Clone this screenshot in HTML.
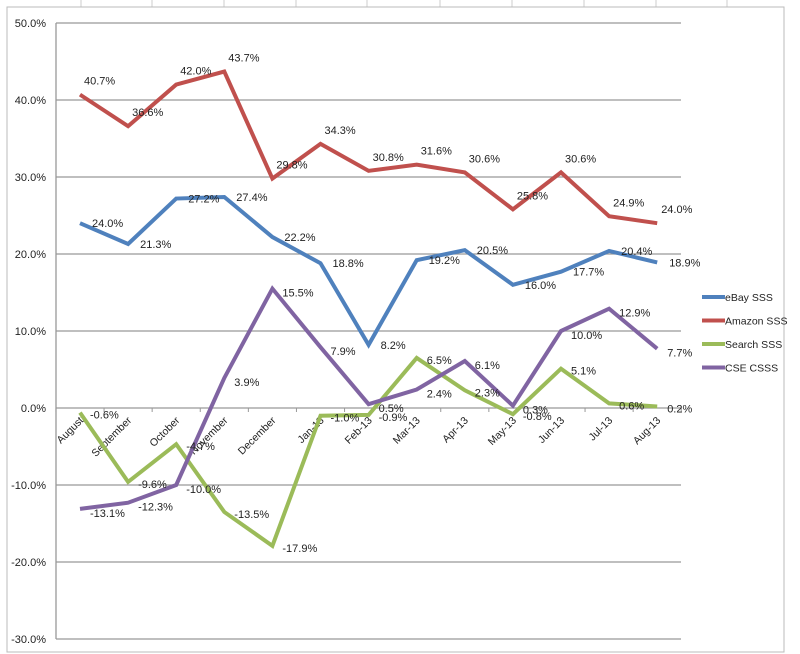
<!DOCTYPE html>
<html><head><meta charset="utf-8">
<style>
html,body{margin:0;padding:0;background:#fff;width:800px;height:654px;overflow:hidden;font-family:"Liberation Sans",sans-serif;}
svg text{font-family:"Liberation Sans",sans-serif;font-size:11px;fill:#222;}
#legend text{font-size:10.5px;}
#xaxis text{font-size:10.5px;}
</style></head>
<body>
<svg id="chart" width="800" height="654" xmlns="http://www.w3.org/2000/svg">
<g id="sheet"></g>
<rect x="7" y="7" width="777" height="645" fill="#fff" stroke="#bbb" stroke-width="1"/>
<g id="grid"></g>
<g id="yaxis"></g>
<g id="xaxis"></g>
<g id="series"></g>
<g id="labels"></g>
<g id="legend"></g>
</svg>
<script>
const categories=["August","September","October","November","December","Jan-13","Feb-13","Mar-13","Apr-13","May-13","Jun-13","Jul-13","Aug-13"];
const ebay=[24.0,21.3,27.2,27.4,22.2,18.8,8.2,19.2,20.5,16.0,17.7,20.4,18.9];
const amazon=[40.7,36.6,42.0,43.7,29.8,34.3,30.8,31.6,30.6,25.8,30.6,24.9,24.0];
const search=[-0.6,-9.6,-4.7,-13.5,-17.9,-1.0,-0.9,6.5,2.3,-0.8,5.1,0.6,0.2];
const cse=[-13.1,-12.3,-10.0,3.9,15.5,7.9,0.5,2.4,6.1,0.3,10.0,12.9,7.7];
const yTicks=[50,40,30,20,10,0,-10,-20,-30];
const seriesNames=["eBay SSS","Amazon SSS","Search SSS","CSE CSSS"];
const NS="http://www.w3.org/2000/svg";
const X0=80,XS=48.1,Y0=408,YS=7.7;
function xs(i){return X0+i*XS;}
function ys(v){return Y0-v*YS;}
function mk(tag,attrs,parent){const e=document.createElementNS(NS,tag);for(const k in attrs)e.setAttribute(k,attrs[k]);document.getElementById(parent).appendChild(e);return e;}
[81,152,224,296,367,440,512,584,656,727].forEach(x=>{const l=mk('line',{x1:x,x2:x,y1:0,y2:7,stroke:'#ccc'},'sheet');

});
yTicks.forEach(v=>{const l=mk('line',{x1:56,x2:681,y1:ys(v),y2:ys(v),stroke:'#999','stroke-width':1.3},'grid');


const t=mk('text',{x:46,y:ys(v)+4,'text-anchor':'end'},'yaxis');t.textContent=v.toFixed(1)+'%';

});
const ax=mk('line',{x1:56,x2:56,y1:ys(50),y2:ys(-30),stroke:'#999','stroke-width':1.3},'yaxis');


for(let i=0;i<=categories.length;i++){const x=X0-XS/2+i*XS;const tk=mk('line',{x1:x,x2:x,y1:Y0,y2:Y0+4,stroke:'#999'},'xaxis');

}
categories.forEach((c,i)=>{const x=xs(i)+4,y=Y0+13;const t=mk('text',{x:x,y:y,'text-anchor':'end',transform:`rotate(-45 ${x} ${y})`},'xaxis');t.textContent=c;

});
const all=[ebay,amazon,search,cse];
const colors=["#4f81bd","#c0504d","#9bbb59","#8064a2"];
const keys=["ebay","amazon","search","cse"];
const offs=[[12,4],[4,-10],[10,6],[10,8]];
all.forEach((arr,s)=>{const p=mk('polyline',{points:arr.map((v,i)=>xs(i)+','+ys(v)).join(' '),fill:'none',stroke:colors[s],'stroke-width':4,'stroke-linejoin':'miter'},'series');


arr.forEach((v,i)=>{const t=mk('text',{x:xs(i)+offs[s][0],y:ys(v)+offs[s][1]},'labels');t.textContent=v.toFixed(1)+'%';

});
const ly=297+s*23.5;
const ll=mk('line',{x1:702,x2:725,y1:ly,y2:ly,stroke:colors[s],'stroke-width':4},'legend');


const lt=mk('text',{x:725,y:ly+4},'legend');lt.textContent=seriesNames[s];

});
</script>
</body></html>
